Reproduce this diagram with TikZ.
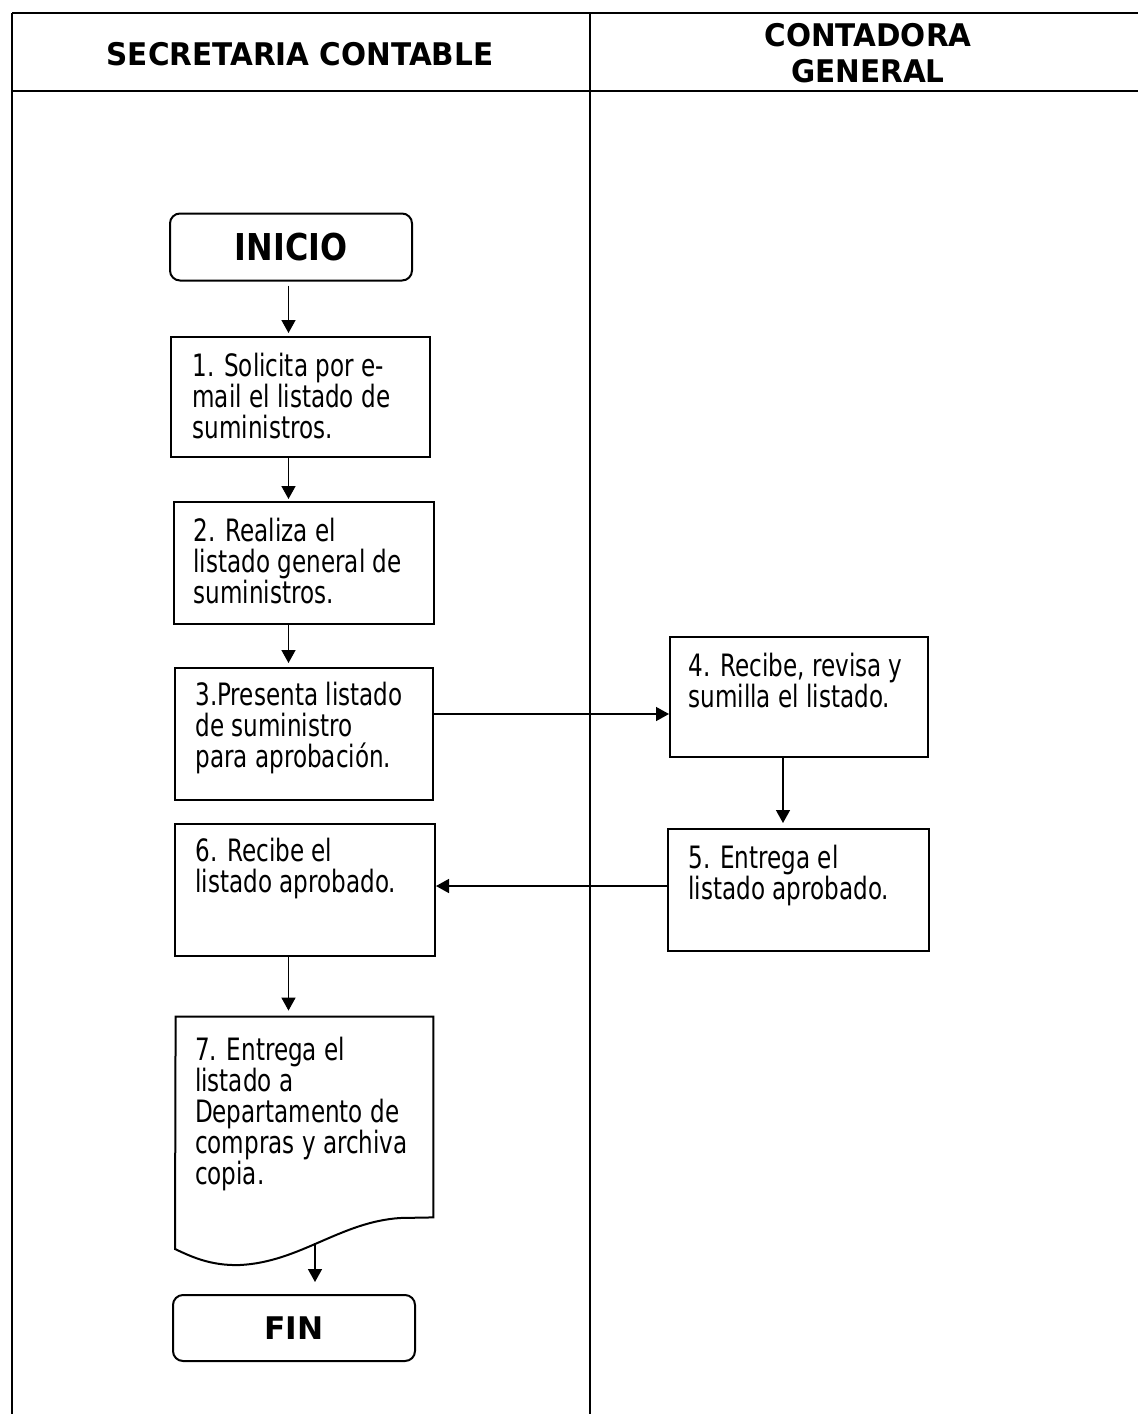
\documentclass[tikz,border=0pt]{standalone}
\usepackage{fontspec}
\setmainfont{DejaVu Sans}
\newfontfamily\bodyfont{DejaVu Sans}[FakeStretch=0.75]
\newfontfamily\headfont{DejaVu Sans}[FakeStretch=0.945]
\newfontfamily\startfont{DejaVu Sans}[FakeStretch=0.86]
\usetikzlibrary{arrows.meta,calc,fit}

\begin{document}
\begin{tikzpicture}[x=0.5pt,y=-0.5pt,
  frame/.style={line width=0.6pt},
  stepbox/.style={draw, rectangle, line width=1pt, inner sep=0pt},
  termbox/.style={draw, rectangle, rounded corners=5pt, line width=1pt, inner sep=0pt},
  steptext/.style={anchor=north west, inner sep=0pt, align=left,
    font=\bodyfont\fontsize{15.4pt}{15.5pt}\selectfont},
  heading/.style={inner sep=0pt, align=center,
    font=\headfont\bfseries\fontsize{15.6pt}{18pt}\selectfont},
  flow/.style={-{Triangle[length=6.5pt,width=7pt]}, line width=0.75pt}]

\useasboundingbox (0,0) rectangle (1138,1414);

% swimlane table
\draw[line width=1.1pt] (12,13) -- (1138,13);
\draw[line width=1pt] (12,91) -- (1138,91);
\draw[frame] (12,13) -- (12,1414);
\draw[frame] (590,13) -- (590,1414);

\node[heading, anchor=base] (lane1) at (300,65) {SECRETARIA CONTABLE};
\node[heading, anchor=north] (lane2) at (868,23) {CONTADORA\\GENERAL};

% terminals
\node[termbox, minimum width=121pt, minimum height=33.5pt,
  font=\startfont\bfseries\fontsize{18.5pt}{20pt}\selectfont] (ini) at (291,247) {INICIO};
\node[termbox, minimum width=121pt, minimum height=33pt,
  font=\bfseries\fontsize{15.6pt}{18pt}\selectfont] (fin) at (294,1328) {FIN};

% process steps
\node[stepbox, fit={(171,337) (430,457)}] (b1) {};
\node[stepbox, fit={(174,502) (434,624)}] (b2) {};
\node[stepbox, fit={(175,668) (433,800)}] (b3) {};
\node[stepbox, fit={(670,637) (928,757)}] (b4) {};
\node[stepbox, fit={(668,829) (929,951)}] (b5) {};
\node[stepbox, fit={(175,824) (435,956)}] (b6) {};
\node[inner sep=0pt, fit={(176,1017) (433,1217)}] (b7) {};

% document shape of step 7
\draw[line width=1pt] (b7.north west) -- (b7.north east) -- (b7.south east)
  -- (400,1218) .. controls (340,1222) and (300,1262) .. (240,1265)
  .. controls (210,1266) and (190,1256) .. (175,1249) -- cycle;
\coordinate (w7) at (315,1243);

\node[steptext] (t1) at ($(b1.north west)+(22,17)$) {1. Solicita por e-\\mail el listado de\\suministros.};
\node[steptext] (t2) at ($(b2.north west)+(20,17)$) {2. Realiza el\\listado general de\\suministros.};
\node[steptext] (t3) at ($(b3.north west)+(21,15)$) {3.Presenta listado\\de suministro\\para aprobación.};
\node[steptext] (t4) at ($(b4.north west)+(19,17)$) {4. Recibe, revisa y\\sumilla el listado.};
\node[steptext] (t5) at ($(b5.north west)+(21,17)$) {5. Entrega el\\listado aprobado.};
\node[steptext] (t6) at ($(b6.north west)+(21,15)$) {6. Recibe el\\listado aprobado.};
\node[steptext] (t7) at ($(b7.north west)+(19,20)$) {7. Entrega el\\listado a\\Departamento de\\compras y archiva\\copia.};

% connectors
\coordinate (spine) at (288.5,0);
\coordinate (rspine) at (783,0);
\coordinate (go) at (0,714);
\coordinate (back) at (0,886);

\draw[flow, shorten <=2pt, shorten >=1.5pt] (spine |- ini.south) -- (spine |- b1.north);
\draw[flow, shorten >=1pt] (spine |- b1.south) -- (spine |- b2.north);
\draw[flow, shorten >=2pt] (spine |- b2.south) -- (spine |- b3.north);
\draw[flow] (b3.east |- go) -- (b4.west |- go);
\draw[flow, shorten >=2.5pt] (rspine |- b4.south) -- (rspine |- b5.north);
\draw[flow] (b5.west |- back) -- (b6.east |- back);
\draw[flow, shorten >=3pt] (spine |- b6.south) -- (spine |- b7.north);
\draw[flow] (w7) -- ([yshift=6pt]w7 |- fin.north);
\end{tikzpicture}
\end{document}
